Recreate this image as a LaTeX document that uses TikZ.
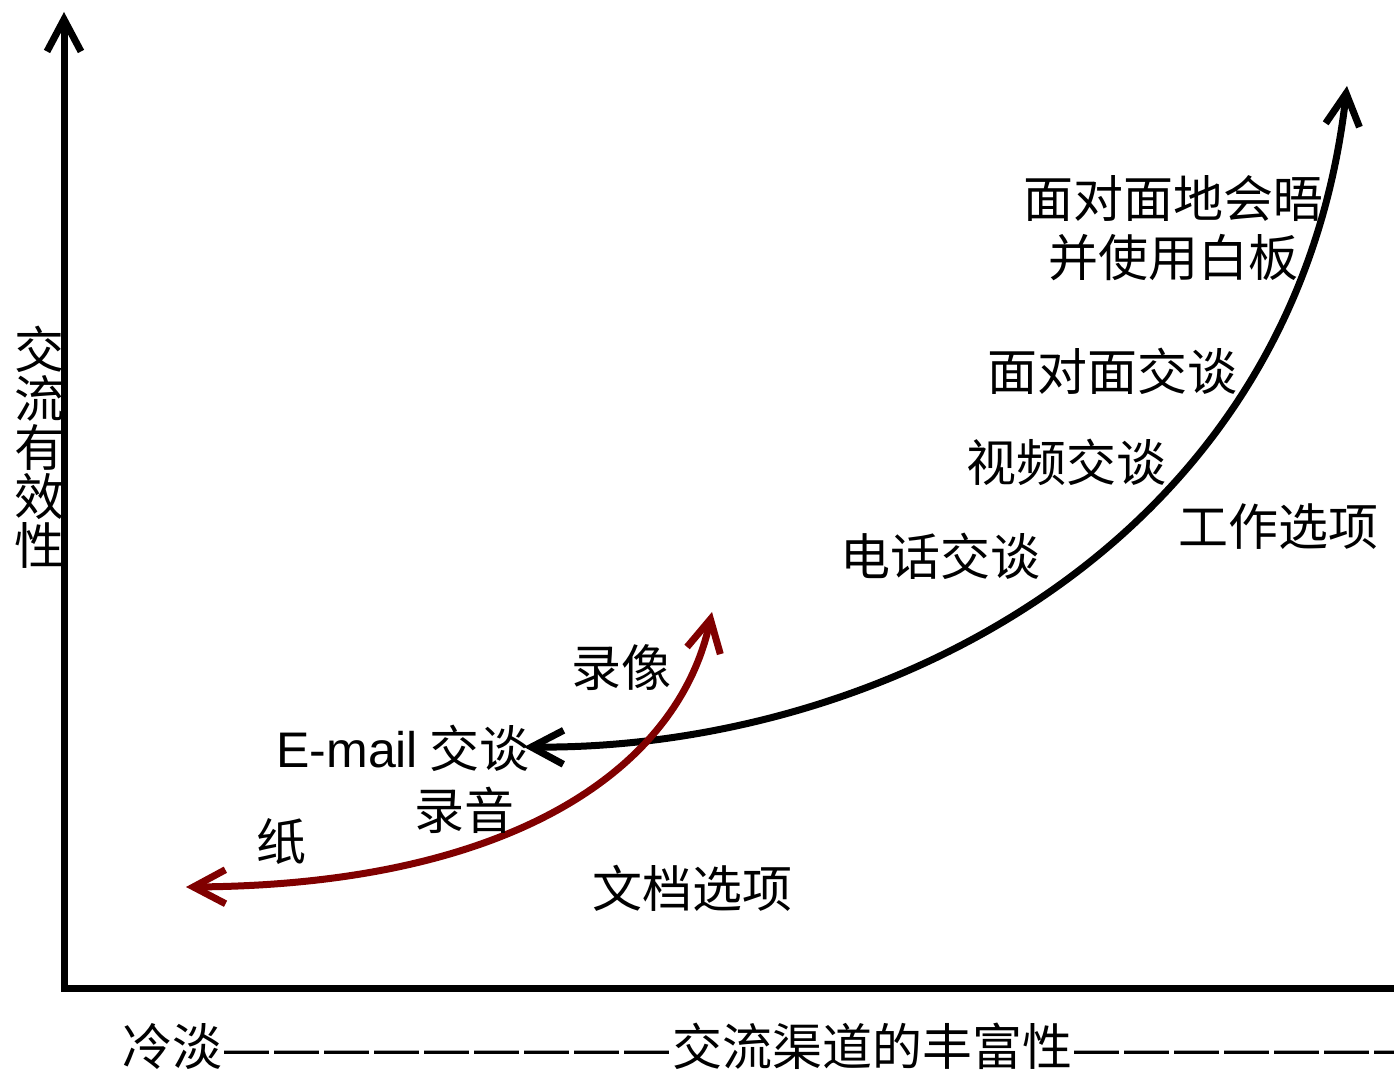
\documentclass[tikz,border=0pt]{standalone}
\usepackage{fontspec}
\usepackage{graphicx}
\setmainfont{Noto Sans CJK SC}
\newfontfamily\latinfont{Liberation Sans}
\usetikzlibrary{arrows.meta}
\definecolor{paperred}{RGB}{128,0,0}
\newcommand\longdash{\makebox[25pt][c]{\scalebox{0.9}[1]{\latinfont —}}}

\begin{document}
\begin{tikzpicture}[x=0.5pt,y=-0.5pt,
        barb/.tip={Straight Barb[length=16pt,width=17pt]},
        axisline/.style={line width=3.5pt},
        channel/.style={line width=3.5pt},
        lbl/.style={font=\fontsize{25pt}{29.5pt}\selectfont,inner sep=0pt,align=center}]
        \useasboundingbox (0,0) rectangle (1394,1080);
        \coordinate (top) at (64,12);
        \coordinate (origin) at (64,988);
        \coordinate (right) at (1420,988);
        \draw[axisline,{.barb[]}-] (top) -- (origin) -- (right);
        \node[lbl,font=\fontsize{25pt}{24.5pt}\selectfont] (effect) at (40,447) {交\\流\\有\\效\\性};
        \node[lbl,anchor=west] (richness) at (122,1046) {冷淡\longdash\longdash\longdash\longdash\longdash\longdash\longdash\longdash\longdash 交流渠道的丰富性\longdash\longdash\longdash\longdash\longdash\longdash\longdash};
        \coordinate (email) at (524,747);
        \coordinate (meet) at (1347,86);
        \draw[channel,{.barb[]}-{barb[].}] (email) .. controls (880,750) and (1295,545) .. (meet);
        \coordinate (paper) at (186,887);
        \coordinate (video) at (712,612);
        \draw[channel,paperred,{.barb[]}-{barb[].}] (paper) .. controls (510,885) and (678,770) .. (video);
        \node[lbl] (meeting) at (1173,228) {面对面地会晤\\并使用白板};
        \node[lbl] (face) at (1112,371) {面对面交谈};
        \node[lbl] (videochat) at (1066,462) {视频交谈};
        \node[lbl] (work) at (1278,527) {工作选项};
        \node[lbl] (phone) at (940,556) {电话交谈};
        \node[lbl] (tape) at (621,668) {录像};
        \node[lbl,anchor=west] (mail) at (276,748) {{\latinfont E-mail} 交谈};
        \node[lbl] (audio) at (464,810) {录音};
        \node[lbl] (paperlbl) at (281,842) {纸};
        \node[lbl] (docs) at (692,888) {文档选项};
    \end{tikzpicture}
\end{document}
